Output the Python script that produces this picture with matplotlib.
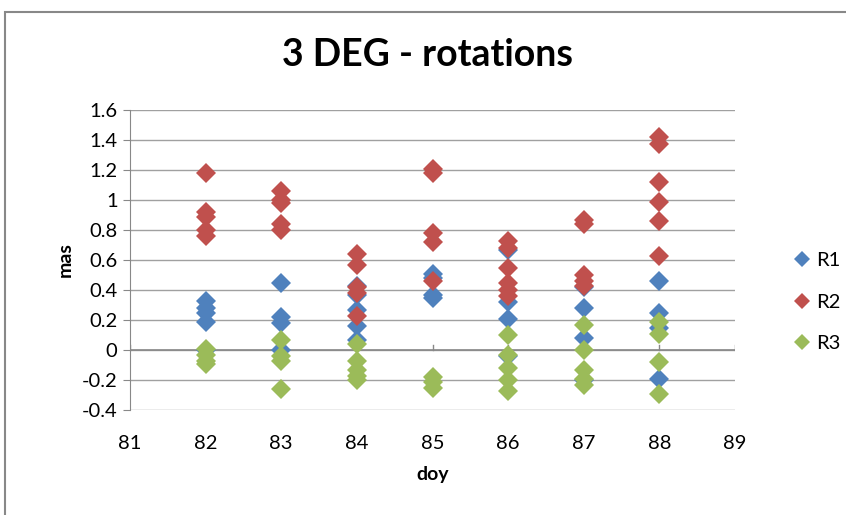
import numpy as np
import matplotlib.pyplot as plt
from matplotlib.patches import Rectangle

# day of year columns
days = [82, 83, 84, 85, 86, 87, 88]

# values per day (mas)
r1 = [[0.33, 0.28, 0.25, 0.19, 0.0],
      [0.45, 0.22, 0.18, 0.0],
      [0.43, 0.37, 0.27, 0.16, 0.07],
      [0.51, 0.48, 0.37, 0.35],
      [0.67, 0.32, 0.21, -0.04],
      [0.42, 0.28, 0.08, -0.2],
      [0.46, 0.25, 0.15, -0.19]]
r2 = [[1.18, 0.92, 0.89, 0.80, 0.76],
      [1.06, 1.00, 0.98, 0.84, 0.80],
      [0.64, 0.57, 0.42, 0.38, 0.23],
      [1.21, 1.18, 0.78, 0.72, 0.46],
      [0.73, 0.68, 0.55, 0.45, 0.40, 0.36],
      [0.87, 0.84, 0.50, 0.46, 0.43],
      [1.42, 1.37, 1.12, 0.99, 0.86, 0.63]]
r3 = [[0.01, -0.03, -0.07, -0.09],
      [0.07, -0.04, -0.07, -0.26],
      [0.04, -0.07, -0.13, -0.17, -0.20],
      [-0.18, -0.21, -0.25],
      [0.10, -0.03, -0.12, -0.20, -0.27],
      [0.17, 0.00, -0.13, -0.19, -0.23],
      [0.19, 0.11, -0.08, -0.29]]

series = [("R1", r1, "#4F81BD"), ("R2", r2, "#C0504D"), ("R3", r3, "#9BBB59")]

plt.rcParams['font.family'] = ['Lato', 'DejaVu Sans']

fig = plt.figure(figsize=(8.46, 5.15), dpi=100)
ax = fig.add_axes([130/846, 1-410/515, 605/846, 300/515])

# chart border
fig.patches.append(Rectangle((5/846, -0.1), 1.2, 1-12/515+0.1, transform=fig.transFigure,
                             fill=False, edgecolor='#888888', linewidth=1.5))

for name, vals, col in series:
    xs = []
    ys = []
    for d, v in zip(days, vals):
        xs += [d]*len(v)
        ys += v
    ax.plot(xs, ys, linestyle='none', marker='D', markersize=10, color=col,
            markeredgewidth=0, label=name)

ax.set_xlim(81, 89)
ax.set_ylim(-0.4, 1.6)
ax.set_yticks(np.arange(-0.4, 1.61, 0.2))
ax.set_yticklabels(['-0.4', '-0.2', '0', '0.2', '0.4', '0.6', '0.8', '1', '1.2', '1.4', '1.6'])
ax.set_xticks(range(81, 90))
ax.grid(axis='y', color='#a0a0a0', linewidth=1)
ax.set_axisbelow(True)

for s in ['top', 'right', 'bottom']:
    ax.spines[s].set_visible(False)
ax.spines['left'].set_color('#888888')
ax.tick_params(axis='y', direction='out', length=5, color='#888888', labelsize=14.5, pad=4)
ax.tick_params(axis='x', length=0, labelsize=14.5, pad=18)

# x axis line crosses at y = 0, with tick marks pointing up
ax.axhline(0, color='#888888', linewidth=1.2, zorder=1)
for d in range(81, 90):
    ax.plot([d, d], [0, 0.035], color='#888888', linewidth=1, zorder=1)

ax.set_xlabel('doy', fontsize=14, fontweight='bold', labelpad=10)
ax.set_ylabel('mas', fontsize=14, fontweight='bold', labelpad=6)
fig.text(428/846, 1-55/515, '3 DEG - rotations', fontsize=27, fontweight='bold',
         ha='center', va='center')

fig.legend(loc='center left', bbox_to_anchor=(772/846, 1-302/515), frameon=False,
           fontsize=14.5, handletextpad=0.1, labelspacing=1.2, markerscale=0.8,
           handlelength=1.2)

fig.savefig('out.png', dpi=100)
